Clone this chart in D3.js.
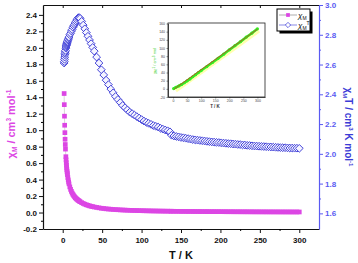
<!DOCTYPE html>
<html>
<head>
<meta charset="utf-8">
<script src="https://cdn.jsdelivr.net/npm/d3@7"></script>
<style>
body { margin: 0; background: #fff; }
svg { display: block; font-family: "Liberation Sans", Arial, sans-serif; }
</style>
</head>
<body>
<svg id="chart" width="358" height="263"></svg>
<script>
"use strict";

// Temperature (K)
var temps = [
    1.8, 2.0, 2.25, 2.5, 2.75, 3.0, 3.25, 3.5, 4, 4.25, 4.5, 4.75, 5, 5.25, 5.5, 5.75, 6, 6.5, 7, 7.5, 8, 9, 10,
    11, 12, 13, 14, 15, 16, 17, 18, 19, 20, 21, 22, 24, 26, 28, 30, 32, 34, 36, 38, 40, 43, 46,
    49, 52, 55, 58, 61, 64, 67, 70, 73, 76, 79, 82, 85, 88, 91, 94, 97, 100, 103, 106,
    109, 112, 115, 118, 121, 124, 127, 130, 133, 136, 138, 141, 144, 147, 150, 153, 156, 159, 162, 165,
    168, 171, 174, 177, 180, 183, 186, 189, 192, 195, 198, 201, 204, 207, 210, 213, 216, 219, 222, 225,
    228, 231, 234, 237, 240, 243, 246, 249, 252, 255, 258, 261, 264, 267, 270, 273, 276, 279, 282, 285,
    288, 291, 294, 297, 300
];

// chiM T (cm3 K mol-1), right axis
var chiMT = [
    2.61, 2.62, 2.635, 2.65, 2.665, 2.675, 2.685, 2.695, 2.71, 2.718, 2.725, 2.73, 2.735, 2.74, 2.745, 2.75, 2.755, 2.763, 2.77, 2.778, 2.785, 2.80, 2.81,
    2.825, 2.835, 2.85, 2.86, 2.87, 2.88, 2.89, 2.90, 2.91, 2.915, 2.915, 2.91, 2.89, 2.865, 2.84, 2.815, 2.79, 2.765, 2.74, 2.715, 2.69, 2.65, 2.61,
    2.565, 2.53, 2.495, 2.465, 2.435, 2.41, 2.385, 2.365, 2.345, 2.325, 2.31, 2.295, 2.28, 2.27, 2.26, 2.25, 2.24, 2.23, 2.22, 2.212,
    2.205, 2.198, 2.19, 2.185, 2.18, 2.172, 2.166, 2.16, 2.155, 2.148, 2.125, 2.12, 2.117, 2.114, 2.11, 2.108, 2.105, 2.102, 2.099, 2.096,
    2.094, 2.092, 2.09, 2.088, 2.086, 2.084, 2.082, 2.08, 2.079, 2.077, 2.076, 2.074, 2.072, 2.071, 2.069, 2.068, 2.066, 2.065, 2.063, 2.062,
    2.06, 2.059, 2.057, 2.056, 2.054, 2.053, 2.052, 2.051, 2.05, 2.049, 2.048, 2.047, 2.046, 2.045, 2.044, 2.043, 2.042, 2.041, 2.041, 2.04,
    2.039, 2.039, 2.038, 2.038, 2.037
];

// chiM (cm3 mol-1), left axis
var chiM = [
    1.445, 1.31, 1.17, 1.06, 0.97, 0.89, 0.826, 0.77, 0.678, 0.64, 0.606, 0.575, 0.547, 0.522, 0.499, 0.478, 0.459, 0.425, 0.396, 0.37, 0.348, 0.311, 0.281,
    0.257, 0.236, 0.219, 0.204, 0.191, 0.18, 0.17, 0.161, 0.153, 0.146, 0.139, 0.132, 0.120, 0.110, 0.101, 0.094, 0.087, 0.081, 0.076, 0.071, 0.067, 0.062, 0.057,
    0.052, 0.049, 0.045, 0.0425, 0.040, 0.0377, 0.0356, 0.0338, 0.0321, 0.0306, 0.0292, 0.028, 0.0268, 0.0258, 0.0248, 0.0239, 0.0231, 0.0223, 0.0216, 0.0209,
    0.0202, 0.0196, 0.019, 0.0185, 0.018, 0.0175, 0.0171, 0.0166, 0.0162, 0.0158, 0.0154, 0.015, 0.0147, 0.0144, 0.0141, 0.0138, 0.0135, 0.0132, 0.013, 0.0127,
    0.0125, 0.0122, 0.012, 0.0118, 0.0116, 0.0114, 0.0112, 0.011, 0.0108, 0.0107, 0.0105, 0.0103, 0.0102, 0.01, 0.0099, 0.0097, 0.0096, 0.0094, 0.0093, 0.0092,
    0.009, 0.0089, 0.0088, 0.0087, 0.0086, 0.0084, 0.0083, 0.0082, 0.0081, 0.008, 0.0079, 0.0078, 0.0077, 0.0077, 0.0076, 0.0075, 0.0074, 0.0073, 0.0072, 0.0072,
    0.0071, 0.007, 0.0069, 0.0069, 0.0068
];

var xTicks = [0, 50, 100, 150, 200, 250, 300];
var leftTicks = [-0.2, 0.0, 0.2, 0.4, 0.6, 0.8, 1.0, 1.2, 1.4, 1.6, 1.8, 2.0, 2.2, 2.4];
var rightTicks = [1.6, 1.8, 2.0, 2.2, 2.4, 2.6, 2.8, 3.0];

// inset: inverse susceptibility vs T
var insetT = [2, 10, 20, 30, 40, 50, 60, 70, 80, 90, 100, 120, 140, 160, 180, 200, 220, 240, 260, 280, 300];
var insetInv = [0.7, 3.6, 6.9, 10.6, 14.9, 19.5, 24.3, 29.6, 34.6, 39.8, 44.8, 54.6, 64.5, 74.6, 84.8, 95.5, 105.6, 115.7, 126.4, 136.2, 147];
var fitT = [4, 300];
var fitInv = [-0.5, 146];
var insetXTicks = [0, 50, 100, 150, 200, 250, 300];
var insetYTicks = [-20, 0, 20, 40, 60, 80, 100, 120, 140, 160];

var pink = "#dc46e4";
var blue = "#3b3bd6";
var axisBlue = "#5a5af2";

var svg = d3.select("#chart");

var mLeft = 43, mRight = 319, mTop = 5, mBottom = 229;

var x = d3.scaleLinear().domain([-25, 325]).range([mLeft, mRight]);
var yL = d3.scaleLinear().domain([-0.2, 2.52]).range([mBottom, mTop]);
var yR = d3.scaleLinear().domain([1.495, 3.0]).range([mBottom, mTop]);

var fmt = function(d) { return d3.format(".1f")(d).replace("\u2212", "-"); };

function mids(ticks) {
    var out = [];
    for (var i = 0; i < ticks.length - 1; i++) out.push((ticks[i] + ticks[i + 1]) / 2);
    return out;
}

function styleAxis(g, color, fontSize) {
    g.select(".domain").attr("stroke", color).attr("stroke-width", 1.2);
    g.selectAll(".tick line").attr("stroke", color).attr("stroke-width", 1);
    g.selectAll(".tick text")
        .attr("fill", color)
        .style("font-size", fontSize + "px")
        .style("font-weight", "bold")
        .style("font-family", "'Liberation Sans', Arial, sans-serif");
}

// bottom axis
var gx = svg.append("g")
    .attr("transform", "translate(0," + mBottom + ")")
    .call(d3.axisBottom(x).tickValues(xTicks).tickSize(4).tickSizeOuter(0).tickPadding(4).tickFormat(d3.format("d")));
styleAxis(gx, "#111", 8);
var gxm = svg.append("g")
    .attr("transform", "translate(0," + mBottom + ")")
    .call(d3.axisBottom(x).tickValues(mids(xTicks)).tickSize(2).tickSizeOuter(0).tickFormat(""));
gxm.select(".domain").remove();

// top frame with inner ticks
var gt = svg.append("g")
    .attr("transform", "translate(0," + mTop + ")")
    .call(d3.axisTop(x).tickValues(xTicks).tickSize(-3).tickSizeOuter(0).tickFormat(""));
styleAxis(gt, "#111", 8);

// left axis
var gl = svg.append("g")
    .attr("transform", "translate(" + mLeft + ",0)")
    .call(d3.axisLeft(yL).tickValues(leftTicks).tickSize(4).tickSizeOuter(0).tickPadding(2).tickFormat(fmt));
styleAxis(gl, "#111", 8);
var glm = svg.append("g")
    .attr("transform", "translate(" + mLeft + ",0)")
    .call(d3.axisLeft(yL).tickValues(mids(leftTicks)).tickSize(2).tickSizeOuter(0).tickFormat(""));
glm.select(".domain").remove();

// right axis
var gr = svg.append("g")
    .attr("transform", "translate(" + mRight + ",0)")
    .call(d3.axisRight(yR).tickValues(rightTicks).tickSize(4).tickSizeOuter(0).tickPadding(2).tickFormat(fmt));
styleAxis(gr, axisBlue, 8);
var grm = svg.append("g")
    .attr("transform", "translate(" + mRight + ",0)")
    .call(d3.axisRight(yR).tickValues(mids(rightTicks)).tickSize(2).tickSizeOuter(0).tickFormat(""));
grm.select(".domain").remove();
grm.selectAll(".tick line").attr("stroke", axisBlue);

// chiM T series (hollow diamonds)
var points = temps.map(function(t, i) { return {t: t, mt: chiMT[i], m: chiM[i]}; });

svg.append("path")
    .datum(points)
    .attr("fill", "none")
    .attr("stroke", blue)
    .attr("stroke-width", 0.6)
    .attr("d", d3.line().x(function(d) { return x(d.t); }).y(function(d) { return yR(d.mt); }));

svg.append("g").selectAll("path")
    .data(points)
    .enter().append("path")
    .attr("d", d3.symbol().type(d3.symbolSquare).size(30))
    .attr("transform", function(d) { return "translate(" + x(d.t) + "," + yR(d.mt) + ") rotate(45)"; })
    .attr("fill", "#f4f4ff")
    .attr("stroke", blue)
    .attr("stroke-width", 0.9);

// chiM series (filled squares)
svg.append("path")
    .datum(points)
    .attr("fill", "none")
    .attr("stroke", "#bbb")
    .attr("stroke-width", 0.6)
    .attr("d", d3.line().x(function(d) { return x(d.t); }).y(function(d) { return yL(d.m); }));

svg.append("g").selectAll("path")
    .data(points)
    .enter().append("path")
    .attr("d", d3.symbol().type(d3.symbolSquare).size(22))
    .attr("transform", function(d) { return "translate(" + x(d.t) + "," + yL(d.m) + ")"; })
    .attr("fill", pink);

// axis titles
var tl = svg.append("text")
    .attr("transform", "translate(15,124) rotate(-90)")
    .attr("text-anchor", "middle")
    .attr("fill", pink)
    .style("font-size", "11px")
    .style("font-weight", "bold");
tl.append("tspan").text("\u03c7");
tl.append("tspan").attr("dy", 2).style("font-size", "6.5px").text("M");
tl.append("tspan").attr("dy", -2).text(" / cm");
tl.append("tspan").attr("dy", -4).style("font-size", "6.5px").text("3");
tl.append("tspan").attr("dy", 4).text(" mol");
tl.append("tspan").attr("dy", -4).style("font-size", "6.5px").text("-1");

var tr = svg.append("text")
    .attr("transform", "translate(345,127) rotate(90)")
    .attr("text-anchor", "middle")
    .attr("fill", blue)
    .style("font-size", "10px")
    .style("font-weight", "bold");
tr.append("tspan").text("\u03c7");
tr.append("tspan").attr("dy", 2).style("font-size", "6px").text("M");
tr.append("tspan").attr("dy", -2).text("T / cm");
tr.append("tspan").attr("dy", -4).style("font-size", "6px").text("3");
tr.append("tspan").attr("dy", 4).text(" K mol");
tr.append("tspan").attr("dy", -4).style("font-size", "6px").text("-1");

svg.append("text")
    .attr("x", 181).attr("y", 259)
    .attr("text-anchor", "middle")
    .attr("fill", "#111")
    .style("font-size", "11px")
    .style("font-weight", "bold")
    .text("T / K");

// legend
var lg = svg.append("g").attr("transform", "translate(277,9)");
lg.append("rect").attr("x", 2.5).attr("y", 2.5).attr("width", 33).attr("height", 22).attr("fill", "#000");
lg.append("rect").attr("width", 33).attr("height", 22).attr("fill", "#fff").attr("stroke", "#000").attr("stroke-width", 1);
lg.append("line").attr("x1", 2).attr("x2", 20).attr("y1", 6).attr("y2", 6).attr("stroke", "#777").attr("stroke-width", 0.6);
lg.append("path").attr("d", d3.symbol().type(d3.symbolSquare).size(14)).attr("transform", "translate(11,6)").attr("fill", pink);
lg.append("line").attr("x1", 2).attr("x2", 20).attr("y1", 16).attr("y2", 16).attr("stroke", blue).attr("stroke-width", 0.6);
lg.append("path").attr("d", d3.symbol().type(d3.symbolSquare).size(14))
    .attr("transform", "translate(11,16) rotate(45)").attr("fill", "#fff").attr("stroke", blue).attr("stroke-width", 0.7);
[6, 16].forEach(function(yy, i) {
    var t = lg.append("text").attr("x", 21).attr("y", yy + 3)
        .style("font-size", "8px").style("font-style", "italic").attr("fill", "#111");
    t.append("tspan").text("\u03c7");
    t.append("tspan").attr("dy", 2).style("font-size", "5px").style("font-style", "normal").text("M");
    if (i === 1) t.append("tspan").attr("dy", -5).style("font-size", "5px").style("font-style", "normal").text("T");
});

// inset
var ix = d3.scaleLinear().domain([-18, 327]).range([168, 265]);
var iy = d3.scaleLinear().domain([-20, 160]).range([97, 23.5]);

svg.append("rect")
    .attr("x", 168).attr("y", 23).attr("width", 97).attr("height", 74)
    .attr("fill", "#fff").attr("stroke", "#222").attr("stroke-width", 0.8);

var ixa = svg.append("g")
    .attr("transform", "translate(0,97)")
    .call(d3.axisBottom(ix).tickValues(insetXTicks).tickSize(1.5).tickSizeOuter(0).tickPadding(1));
var iya = svg.append("g")
    .attr("transform", "translate(168,0)")
    .call(d3.axisLeft(iy).tickValues(insetYTicks).tickSize(1.5).tickSizeOuter(0).tickPadding(1.5)
        .tickFormat(function(d) { return String(d); }));
[ixa, iya].forEach(function(g) {
    g.select(".domain").attr("stroke", "#222").attr("stroke-width", 0.8);
    g.selectAll(".tick line").attr("stroke", "#222").attr("stroke-width", 0.5);
    g.selectAll(".tick text").attr("fill", "#444").style("font-size", "3.5px");
});

var fitLine = d3.line().x(function(d, i) { return ix(fitT[i]); }).y(function(d) { return iy(d); });
svg.append("path").datum(fitInv)
    .attr("fill", "none").attr("stroke", "#ffffb0").attr("stroke-width", 4)
    .attr("transform", "translate(1.5,1.5)")
    .attr("d", fitLine);

var invLine = d3.line().x(function(d, i) { return ix(insetT[i]); }).y(function(d) { return iy(d); });
svg.append("path").datum(insetInv)
    .attr("fill", "none").attr("stroke", "#33ee22").attr("stroke-width", 2.6)
    .attr("d", invLine);
svg.append("g").selectAll("circle")
    .data(insetInv)
    .enter().append("circle")
    .attr("cx", function(d, i) { return ix(insetT[i]); })
    .attr("cy", function(d) { return iy(d); })
    .attr("r", 1.6)
    .attr("fill", "#33ee22");
svg.append("path").datum(fitInv)
    .attr("fill", "none").attr("stroke", "#e02020").attr("stroke-width", 0.7)
    .attr("d", fitLine);

svg.append("text")
    .attr("x", 215).attr("y", 108)
    .attr("text-anchor", "middle")
    .attr("fill", "#333")
    .style("font-size", "4.5px")
    .style("font-weight", "bold")
    .text("T / K");

var il = svg.append("text")
    .attr("transform", "translate(156,61) rotate(-90)")
    .attr("text-anchor", "middle")
    .attr("fill", "#33cc22")
    .style("font-size", "4px");
il.append("tspan").text("\u03c7");
il.append("tspan").attr("dy", 1).style("font-size", "3px").text("M");
il.append("tspan").attr("dy", -2).style("font-size", "3px").text("-1");
il.append("tspan").attr("dy", 1).text(" / cm");
il.append("tspan").attr("dy", -1.5).style("font-size", "3px").text("-3");
il.append("tspan").attr("dy", 1.5).text(" mol");
</script>
</body>
</html>
